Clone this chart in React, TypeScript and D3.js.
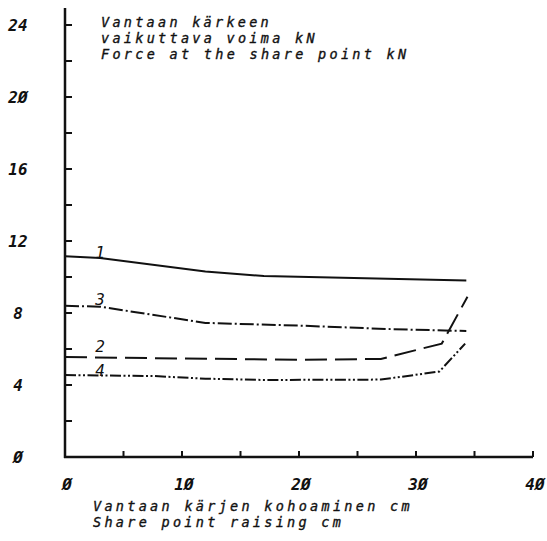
import React from "react";
import * as d3 from "d3";

// share point raising (cm) and force at the share point (kN)
const raise1 = [0, 3, 12, 17, 34.3];
const force1 = [11.15, 11.05, 10.3, 10.05, 9.8];
const raise2 = [0, 20, 27, 32.2, 34.4];
const force2 = [5.55, 5.4, 5.45, 6.3, 8.9];
const raise3 = [0, 3, 12, 20, 28, 34.3];
const force3 = [8.4, 8.35, 7.45, 7.3, 7.1, 7.0];
const raise4 = [0, 7.5, 12, 17, 27, 32, 34.2];
const force4 = [4.55, 4.5, 4.35, 4.28, 4.3, 4.75, 6.3];

const curveNames = ["1", "2", "3", "4"];
const xLabels = [0, 10, 20, 30, 40];
const yLabels = [0, 4, 8, 12, 16, 20, 24];
const xMinor = [5, 10, 15, 20, 25, 30, 35, 40];
const yMinor = [2, 4, 6, 8, 10, 12, 14, 16, 18, 20, 22, 24];

const titleLines = ["Vantaan kärkeen", "vaikuttava voima kN", "Force at the share point kN"];
const xTitleLines = ["Vantaan kärjen kohoaminen cm", "Share point raising cm"];

const W = 547, H = 541;
const CHAR = 11.45; // plotter font advance

const fmt = (v: number) => String(v).replace(/0/g, "Ø");

export default function App() {
  const x = d3.scaleLinear().domain([0, 40]).range([65, 533]);
  const y = d3.scaleLinear().domain([0, 24]).range([457, 25]);

  const line = d3.line<[number, number]>()
    .x(d => x(d[0]))
    .y(d => y(d[1]))
    .curve(d3.curveLinear);

  const series = [
    { pts: d3.zip(raise1, force1) as [number, number][], dash: "none" },
    { pts: d3.zip(raise2, force2) as [number, number][], dash: "22 8" },
    { pts: d3.zip(raise3, force3) as [number, number][], dash: "14 3 2 3" },
    { pts: d3.zip(raise4, force4) as [number, number][], dash: "11 2.5 2 2.5 2 2.5" },
  ];

  // label spots next to the start of each curve
  const labelPos = [
    { n: curveNames[0], x: x(3), y: y(force1[0]) + 2 },
    { n: curveNames[1], x: x(3), y: y(force2[0]) - 5 },
    { n: curveNames[2], x: x(3), y: y(force3[0]) - 1 },
    { n: curveNames[3], x: x(3), y: y(force4[0]) + 1 },
  ];

  const font = "'DejaVu Sans Mono', 'DejaVu Sans', monospace";

  return (
    <svg width={W} height={H} style={{ position: "absolute", left: 0, top: 0, background: "#fff" }}>
      <g fontFamily={font} fontStyle="italic" fill="#111" stroke="#111" strokeWidth={0.35}>
        {titleLines.map((t, i) => (
          <text key={t} x={101} y={27 + i * 16} fontSize={13.5}
            textLength={t.length * CHAR - 4} lengthAdjust="spacing">{t}</text>
        ))}
        {xTitleLines.map((t, i) => (
          <text key={t} x={93} y={511 + i * 16} fontSize={13.5}
            textLength={t.length * CHAR - 4} lengthAdjust="spacing">{t}</text>
        ))}
      </g>

      {/* axes */}
      <g stroke="#111" strokeWidth={2.5} fill="none">
        <line x1={x(0)} y1={8} x2={x(0)} y2={y(0) + 1} />
        <line x1={x(0) - 1} y1={y(0)} x2={x(40)} y2={y(0)} />
      </g>
      <g stroke="#111" strokeWidth={2}>
        {yMinor.map(v => (
          <line key={v} x1={x(0)} y1={y(v)} x2={x(0) + 7} y2={y(v)} />
        ))}
        {xMinor.map(v => (
          <line key={v} x1={x(v)} y1={y(0)} x2={x(v)} y2={y(0) - 6} />
        ))}
      </g>

      <g fontFamily={font} fontStyle="italic" fontWeight="bold" fontSize={16} fill="#111" textAnchor="middle">
        {yLabels.map(v => (
          <text key={v} x={18} y={y(v) + 6}>{fmt(v)}</text>
        ))}
        {xLabels.map(v => (
          <text key={v} x={x(v) + 2} y={490}>{fmt(v)}</text>
        ))}
      </g>

      {/* curves */}
      <g fill="none" stroke="#111" strokeWidth={2}>
        {series.map((s, i) => (
          <path key={i} d={line(s.pts) ?? ""} strokeDasharray={s.dash} />
        ))}
      </g>

      <g fontFamily={font} fontStyle="italic" fontSize={16} fill="#111" textAnchor="middle">
        {labelPos.map(l => (
          <text key={l.n} x={l.x} y={l.y}>{l.n}</text>
        ))}
      </g>
    </svg>
  );
}
